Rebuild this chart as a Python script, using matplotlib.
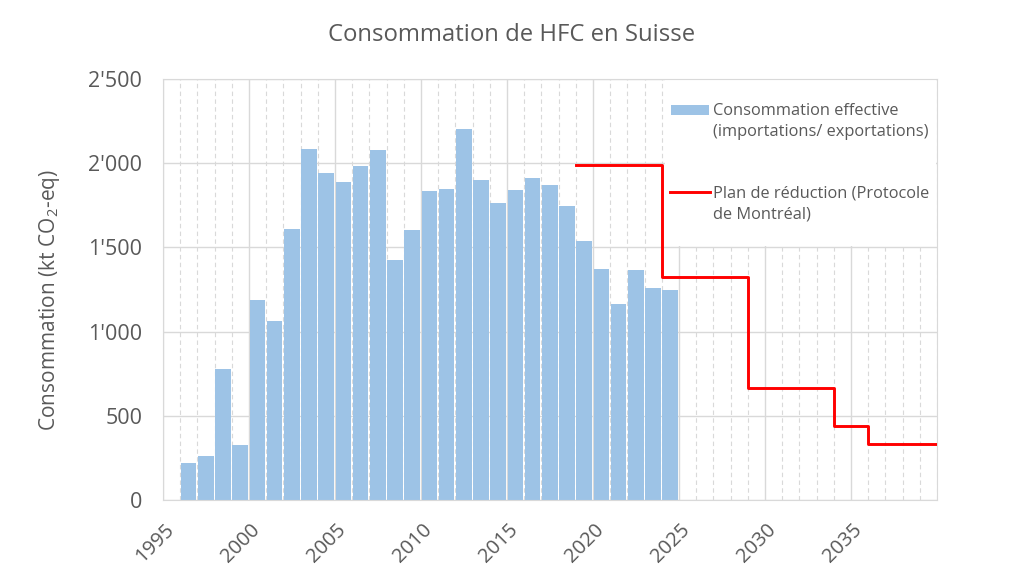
import matplotlib.pyplot as plt
import matplotlib.transforms as mtransforms
from matplotlib.ticker import FuncFormatter, MultipleLocator
from matplotlib.patches import Rectangle
from matplotlib.lines import Line2D

plt.rcParams['font.family'] = ['Open Sans', 'DejaVu Sans']
plt.rcParams['mathtext.default'] = 'regular'

TEXT = '#595959'
GRID = '#d9d9d9'
BAR = '#9dc3e6'
RED = '#ff0000'

# consommation effective (kt CO2-eq)
years = list(range(1996, 2025))
consumption = [218, 261, 780, 327, 1188, 1063, 1609, 2082, 1944, 1888,
               1981, 2076, 1423, 1603, 1833, 1849, 2203, 1902, 1762, 1843,
               1914, 1871, 1744, 1538, 1374, 1162, 1366, 1259, 1247]

# plan de reduction (Protocole de Montreal)
plan_years = [2019, 2024, 2029, 2034, 2036, 2040]
plan_values = [1990, 1327, 663, 442, 332, 332]

tick_years = list(range(1995, 2036, 5))
legend_labels = ['Consommation effective\n(importations/ exportations)',
                 'Plan de réduction (Protocole\nde Montréal)']

W, H = 1024, 586
fig = plt.figure(figsize=(W / 100, H / 100), dpi=100)
ax = fig.add_axes([163 / W, 86 / H, 774 / W, 421 / H])


def px(x, y):
    # pixel position (from top left) -> figure fraction
    return x / W, 1 - y / H


ax.bar([y + 0.04 for y in years], consumption, width=0.9, align='edge',
       color=BAR, zorder=2)
ax.plot(plan_years, plan_values, drawstyle='steps-post', color=RED,
        linewidth=2.1, zorder=4)

ax.set_xlim(1995, 2040)
ax.set_ylim(0, 2500)
ax.xaxis.set_minor_locator(MultipleLocator(1))
ax.yaxis.set_major_locator(MultipleLocator(500))
ax.yaxis.set_major_formatter(FuncFormatter(lambda v, p: f"{int(v):,}".replace(',', "'")))
ax.set_xticks(tick_years)
ax.set_xticklabels([str(y) for y in tick_years], rotation=45, ha='center')

ax.grid(True, which='major', color=GRID, linewidth=1.0, zorder=0)
ax.grid(True, which='minor', axis='x', color=GRID, linewidth=0.8,
        linestyle=(0, (4, 3)), zorder=0)
ax.set_axisbelow(True)
ax.tick_params(which='both', length=0, colors=TEXT)
ax.tick_params(axis='y', pad=15, labelsize=15.5)
ax.tick_params(axis='x', pad=14, labelsize=14.5)
shift = mtransforms.ScaledTranslation(-8 / 100, 0, fig.dpi_scale_trans)
for lab in ax.get_xticklabels():
    lab.set_transform(lab.get_transform() + shift)
for s in ax.spines.values():
    s.set_color(GRID)

ax.set_ylabel('Consommation (kt CO$_2$-eq)', fontsize=15, color=TEXT)
ax.yaxis.set_label_coords(-0.131, 0.475)
fig.suptitle('Consommation de HFC en Suisse', fontsize=17.2, color=TEXT, y=0.96)

# legend drawn by hand like the Excel one: white box hiding the grid
x0, y0 = px(665, 246)
x1, y1 = px(936, 80)
ax.add_patch(Rectangle((x0, y0), x1 - x0, y1 - y0, transform=fig.transFigure,
                       facecolor='white', edgecolor='none', zorder=2.3))
ax.add_patch(Rectangle(px(671, 115), 38 / W, 10 / H, transform=fig.transFigure,
                       facecolor=BAR, edgecolor='none', zorder=5))
lx0, ly = px(670, 192)
lx1, _ = px(710, 192)
ax.add_line(Line2D([lx0, lx1], [ly, ly], transform=fig.transFigure,
                   color=RED, linewidth=2.1, zorder=5))
for label, yc in zip(legend_labels, [121.5, 204]):
    ax.text(*px(713, yc), label, transform=fig.transFigure, fontsize=11.8,
            color=TEXT, ha='left', va='center', linespacing=1.45, zorder=5)

fig.savefig('out.png', dpi=100)
